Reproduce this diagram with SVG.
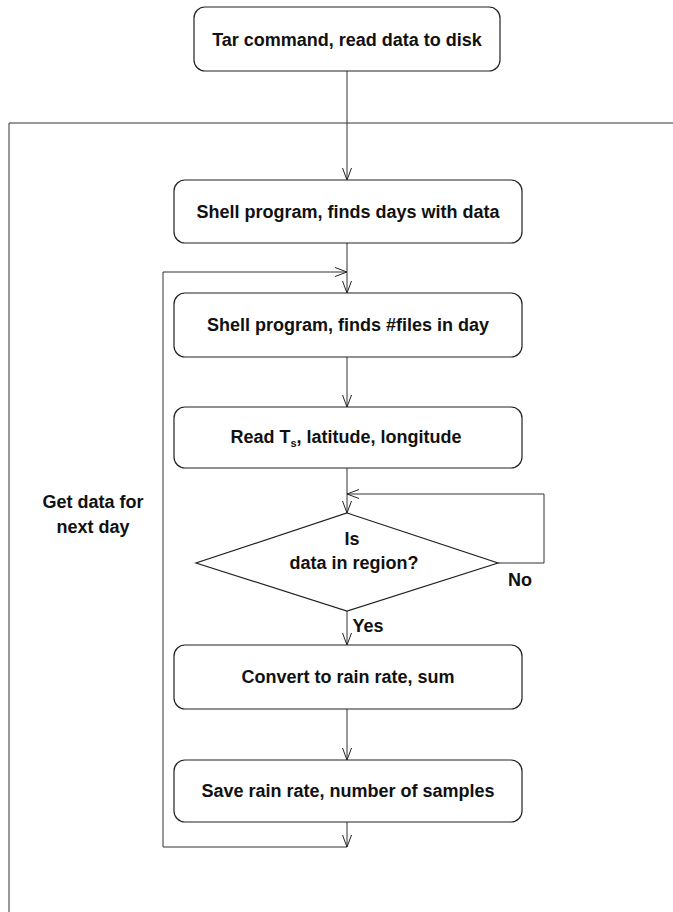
<svg xmlns="http://www.w3.org/2000/svg" width="673" height="912" viewBox="0 0 673 912">
<defs>
<marker id="arr" viewBox="0 0 12 10" refX="12" refY="5" markerWidth="12" markerHeight="10" markerUnits="userSpaceOnUse" orient="auto">
<path d="M0,0.5 L12,5 L0,9.5" fill="none" stroke="#222" stroke-width="1"/>
</marker>
</defs>
<style>
.box{fill:#fff;stroke:#222;stroke-width:1.2}
.t{font-family:"Liberation Sans",Arial,sans-serif;font-weight:bold;font-size:18px;fill:#111;text-anchor:middle}
.c{fill:none;stroke:#333;stroke-width:1}
</style>
<rect width="673" height="912" fill="#fff"/>
<g id="frame">
<path class="c" d="M673,123 L9,123 L9,912"/>
</g>
<g id="connectors">
<line class="c" x1="347" y1="71" x2="347" y2="180" marker-end="url(#arr)"/>
<line class="c" x1="347" y1="243" x2="347" y2="293" marker-end="url(#arr)"/>
<path class="c" d="M347,847 L163,847 L163,272 L347,272" marker-end="url(#arr)"/>
<line class="c" x1="347" y1="357" x2="347" y2="407" marker-end="url(#arr)"/>
<line class="c" x1="347" y1="468" x2="347" y2="513" marker-end="url(#arr)"/>
<path class="c" d="M498,563 L544,563 L544,494 L347,494" marker-end="url(#arr)"/>
<line class="c" x1="347" y1="611" x2="347" y2="645" marker-end="url(#arr)"/>
<line class="c" x1="347" y1="709" x2="347" y2="760" marker-end="url(#arr)"/>
<line class="c" x1="347" y1="822" x2="347" y2="847" marker-end="url(#arr)"/>
</g>
<g id="n1">
<rect class="box" x="194" y="7" width="306" height="64" rx="11"/>
<text class="t" x="347" y="46">Tar command, read data to disk</text>
</g>
<g id="n2">
<rect class="box" x="174" y="180" width="348" height="63" rx="11"/>
<text class="t" x="348" y="218">Shell program, finds days with data</text>
</g>
<g id="n3">
<rect class="box" x="174" y="293" width="348" height="64" rx="11"/>
<text class="t" x="348" y="331">Shell program, finds #files in day</text>
</g>
<g id="n4">
<rect class="box" x="174" y="407" width="348" height="61" rx="11"/>
<text class="t" x="346" y="443">Read T<tspan font-size="11" dy="4">s</tspan><tspan dy="-4">, latitude, longitude</tspan></text>
</g>
<g id="n5">
<polygon class="box" points="347,513 498,563 347,611 196,563"/>
<text class="t" x="352" y="545">Is</text>
<text class="t" x="354" y="569">data in region?</text>
</g>
<g id="n6">
<rect class="box" x="174" y="645" width="348" height="64" rx="11"/>
<text class="t" x="348" y="683">Convert to rain rate, sum</text>
</g>
<g id="n7">
<rect class="box" x="174" y="760" width="348" height="62" rx="11"/>
<text class="t" x="348" y="797">Save rain rate, number of samples</text>
</g>
<g id="labels">
<text class="t" x="520" y="586">No</text>
<text class="t" x="368" y="632">Yes</text>
<text class="t" x="93" y="508">Get data for</text>
<text class="t" x="93" y="533">next day</text>
</g>
</svg>
